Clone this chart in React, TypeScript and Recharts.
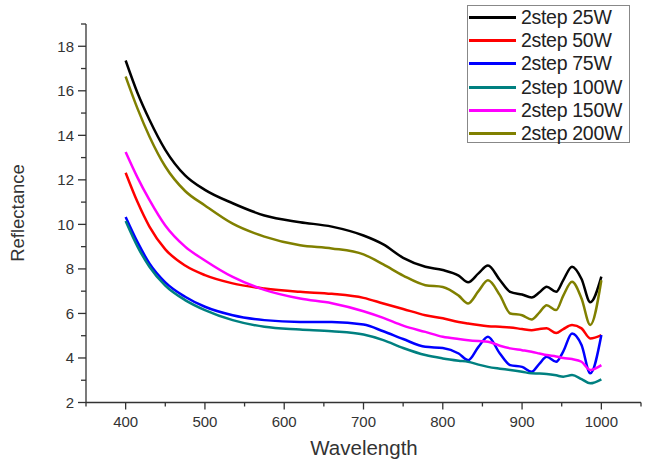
import { LineChart, Line, XAxis, YAxis } from "recharts";

// wavelength sample points (nm)
const wavelength = [
  400, 415, 430, 450, 475, 500, 535, 575, 620, 660, 700, 725, 750, 778, 800,
  820, 832, 845, 857, 872, 885, 900, 912, 922, 931, 943, 952, 963, 975, 986, 1000,
];

const w25 = [
  17.36, 15.9, 14.7, 13.35, 12.2, 11.55, 10.95, 10.4, 10.1, 9.9, 9.5, 9.1, 8.5, 8.1, 7.95,
  7.7, 7.4, 7.8, 8.15, 7.5, 6.97, 6.85, 6.72, 6.95, 7.2, 6.97, 7.5, 8.1, 7.55, 6.5, 7.65,
];
const w50 = [
  12.32, 11.0, 9.9, 8.88, 8.15, 7.72, 7.35, 7.12, 6.97, 6.88, 6.7, 6.45, 6.2, 5.92, 5.78,
  5.62, 5.55, 5.48, 5.43, 5.4, 5.37, 5.3, 5.25, 5.3, 5.33, 5.12, 5.3, 5.48, 5.33, 4.88, 5.03,
];
const w75 = [
  10.33, 9.2, 8.25, 7.4, 6.75, 6.3, 5.92, 5.7, 5.62, 5.62, 5.5, 5.2, 4.85, 4.5, 4.45,
  4.2, 3.9, 4.5, 4.95, 4.2, 3.68, 3.6, 3.38, 3.75, 4.05, 3.83, 4.3, 5.1, 4.58, 3.31, 5.03,
];
const w100 = [
  10.15, 9.0, 8.1, 7.25, 6.6, 6.15, 5.7, 5.4, 5.28, 5.2, 5.05, 4.8, 4.45, 4.13, 3.98,
  3.88, 3.83, 3.7, 3.6, 3.52, 3.46, 3.38, 3.31, 3.3, 3.28, 3.22, 3.16, 3.23, 3.05, 2.86, 3.04,
];
const w150 = [
  13.25, 12.1, 11.1, 9.95, 9.0, 8.38, 7.64, 7.06, 6.67, 6.46, 6.1, 5.8, 5.45, 5.17, 4.95,
  4.85, 4.8, 4.76, 4.73, 4.55, 4.43, 4.35, 4.28, 4.2, 4.13, 4.07, 4.0, 3.95, 3.83, 3.46, 3.68,
];
const w200 = [
  16.64, 15.2, 13.95, 12.6, 11.5, 10.85, 10.03, 9.45, 9.06, 8.92, 8.65, 8.2, 7.7, 7.27, 7.19,
  6.8, 6.45, 7.0, 7.49, 6.82, 6.0, 5.92, 5.73, 6.05, 6.37, 6.15, 6.8, 7.42, 6.67, 5.48, 7.49,
];

const series = [
  { key: "w25", name: "2step 25W", color: "#000000", values: w25 },
  { key: "w50", name: "2step 50W", color: "#ff0000", values: w50 },
  { key: "w75", name: "2step 75W", color: "#0000ff", values: w75 },
  { key: "w100", name: "2step 100W", color: "#008080", values: w100 },
  { key: "w150", name: "2step 150W", color: "#ff00ff", values: w150 },
  { key: "w200", name: "2step 200W", color: "#808000", values: w200 },
];

const xTicks = [350, 400, 450, 500, 550, 600, 650, 700, 750, 800, 850, 900, 950, 1000, 1050];
const xLabels = [400, 500, 600, 700, 800, 900, 1000];
const yTicks = [2, 3, 4, 5, 6, 7, 8, 9, 10, 11, 12, 13, 14, 15, 16, 17, 18, 19];
const yLabels = [2, 4, 6, 8, 10, 12, 14, 16, 18];

const data = wavelength.map((wl, i) => {
  const row: Record<string, number> = { wl };
  series.forEach((s) => {
    row[s.key] = s.values[i];
  });
  return row;
});

const FONT = "'Liberation Sans', Arial, sans-serif";
const INK = "#333333";

function XTick({ x, y, payload }: any) {
  const major = xLabels.includes(payload.value);
  return (
    <g>
      <line x1={x} x2={x} y1={y} y2={y + (major ? 7 : 4)} stroke={INK} strokeWidth={1.3} />
      {major && (
        <text x={x} y={y + 24} textAnchor="middle" fontSize={15} fill={INK} fontFamily={FONT}>
          {payload.value}
        </text>
      )}
    </g>
  );
}

function YTick({ x, y, payload }: any) {
  const major = yLabels.includes(payload.value);
  return (
    <g>
      <line x1={x - (major ? 8 : 5)} x2={x} y1={y} y2={y} stroke={INK} strokeWidth={1.3} />
      {major && (
        <text x={x - 12} y={y + 5.5} textAnchor="end" fontSize={15} fill={INK} fontFamily={FONT}>
          {payload.value}
        </text>
      )}
    </g>
  );
}

function ChartLegend() {
  return (
    <div
      style={{
        position: "absolute",
        left: 467,
        top: 5,
        width: 163,
        height: 138,
        border: "1px solid #888",
        background: "#fff",
        fontFamily: FONT,
        fontSize: 19.5,
        color: "#222",
        boxSizing: "border-box",
        paddingTop: 0,
      }}
    >
      {series.map((s) => (
        <div key={s.key} style={{ display: "flex", alignItems: "center", height: 23.2, whiteSpace: "nowrap" }}>
          <span style={{ display: "inline-block", width: 47, height: 3, background: s.color, marginLeft: 1, marginRight: 5 }} />
          <span style={{ letterSpacing: -0.3 }}>{s.name}</span>
        </div>
      ))}
    </div>
  );
}

export default function App() {
  return (
    <div style={{ position: "absolute", left: 0, top: 0, width: 651, height: 460, background: "#fff" }}>
      <LineChart width={651} height={460} data={data} margin={{ top: 24, right: 10, bottom: 0, left: 0 }}>
        <XAxis
          dataKey="wl"
          type="number"
          domain={[350, 1050]}
          ticks={xTicks}
          interval={0}
          height={57.5}
          tickSize={0}
          tickMargin={0}
          tick={<XTick />}
          stroke={INK}
          strokeWidth={1.3}
          label={{
            content: () => (
              <text x={364} y={455} textAnchor="middle" fontSize={20.5} fill={INK} fontFamily={FONT}>
                Wavelength
              </text>
            ),
          }}
        />
        <YAxis
          type="number"
          domain={[2, 19]}
          ticks={yTicks}
          interval={0}
          width={86}
          tickSize={0}
          tickMargin={0}
          tick={<YTick />}
          stroke={INK}
          strokeWidth={1.3}
          label={{
            content: () => (
              <text
                x={17}
                y={213}
                transform="rotate(-90 17 213)"
                textAnchor="middle"
                dominantBaseline="central"
                fontSize={18.5}
                fill={INK}
                fontFamily={FONT}
              >
                Reflectance
              </text>
            ),
          }}
        />
        {series.map((s) => (
          <Line
            key={s.key}
            dataKey={s.key}
            name={s.name}
            type="monotone"
            stroke={s.color}
            strokeWidth={2.5}
            dot={false}
            isAnimationActive={false}
          />
        ))}
      </LineChart>
      <ChartLegend />
    </div>
  );
}
